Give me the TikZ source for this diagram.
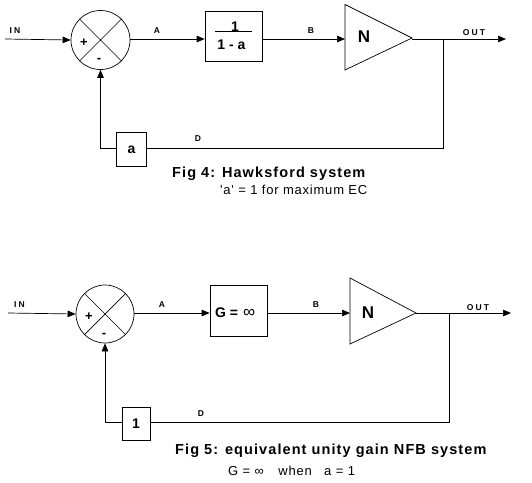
\documentclass[tikz,border=0pt]{standalone}
\usepackage{fontspec}
\setmainfont{Liberation Sans}
\newfontfamily\ttlfont[LetterSpace=7.5]{Liberation Sans}
\newfontfamily\subfont[LetterSpace=6]{Liberation Sans}
\newfontfamily\lblfont[LetterSpace=25]{Liberation Sans}
\usetikzlibrary{arrows.meta}
\begin{document}
\begin{tikzpicture}[x=1pt,y=-1pt,
  wire/.style={line width=0.7pt},
  sig/.style={wire,-{Triangle[length=8pt,width=6.5pt]}},
  sumnode/.style={circle,draw,line width=0.7pt,minimum size=59pt,inner sep=0pt},
  blk/.style={draw,line width=0.7pt,inner sep=0pt},
  tiny/.style={font=\lblfont\fontsize{8.5}{8.5}\selectfont\bfseries},
  pm/.style={font=\fontsize{13}{13}\selectfont\bfseries,inner sep=0pt},
  big/.style={font=\fontsize{14}{14}\selectfont\bfseries,inner sep=0pt},
  title/.style={font=\ttlfont\fontsize{14.5}{15}\selectfont\bfseries,inner sep=0pt,anchor=west},
  sub/.style={font=\subfont\fontsize{13}{13}\selectfont,inner sep=0pt,anchor=west}]
\useasboundingbox (0,0) rectangle (532,482);
% ---------------- Fig 4 ----------------
\coordinate (in1) at (5,39);
\node[sumnode] (s1) at (100.5,40) {};
\draw[wire] (s1.45) -- (s1.225) (s1.135) -- (s1.315);
\node[pm] at (84,43) {+};
\node[pm] at (99,60) {-};
\node[blk,minimum width=57pt,minimum height=50pt] (b1) at (233.5,36) {};
\node[big] (n1) at (235,27) {1};
\draw[wire,line width=1pt] (215,31.5) -- (252,31.5);
\node[big] (d1) at (231.5,44.5) {1 - a};
\coordinate (t1w) at (345,39);
\coordinate (t1e) at (412,38);
\draw[wire] (345,4.5) -- (412,38) -- (345,70) -- cycle;
\node[font=\fontsize{17}{17}\selectfont\bfseries] at (364,37) {N};
\coordinate (j1) at (443,39);
\coordinate (out1) at (506,39);
\node[blk,minimum width=30pt,minimum height=34pt] (f1) at (131.5,149.5) {\fontsize{14}{14}\selectfont\bfseries a};
\draw[sig] (in1) -- (s1.west);
\draw[sig] (s1.east |- in1) -- (b1.west |- in1);
\draw[sig] (b1.east |- in1) -- (t1w);
\draw[sig] (t1e |- in1) -- (out1);
\draw[wire] (j1) |- (f1.east |- 0,148);
\draw[sig] (f1.west |- 0,148) -| (s1.south);
\node[tiny] at (15,30.5) {IN};
\node[tiny] at (157,30.5) {A};
\node[tiny] at (311,31) {B};
\node[tiny] at (474,33) {OUT};
\node[tiny] at (198,139) {D};
\node[title] (tt1) at (172,174) {Fig 4: Hawksford system};
\node[sub] (st1) at (220,190) {'a' = 1 for maximum EC};
% ---------------- Fig 5 ----------------
\coordinate (in2) at (8,313);
\node[sumnode,minimum size=58pt] (s2) at (105,314) {};
\draw[wire] (s2.45) -- (s2.225) (s2.135) -- (s2.315);
\node[pm] at (89,317) {+};
\node[pm] at (104,335) {-};
\node[blk,minimum width=57pt,minimum height=51pt] (b2) at (238.5,310.5) {};
\node[big,anchor=west] at (215,313) {G =\hspace{5pt}\fontsize{17}{17}\selectfont\mdseries ∞};
\coordinate (t2w) at (350,313);
\coordinate (t2e) at (416,313);
\draw[wire] (350,278) -- (416,313) -- (350,344) -- cycle;
\node[font=\fontsize{17}{17}\selectfont\bfseries] at (368,313) {N};
\coordinate (j2) at (449,313);
\coordinate (out2) at (511,313);
\node[blk,minimum width=28pt,minimum height=33pt] (f2) at (136,423.5) {\fontsize{14}{14}\selectfont\bfseries 1};
\draw[sig] (in2) -- (s2.west);
\draw[sig] (s2.east |- in2) -- (b2.west |- in2);
\draw[sig] (b2.east |- in2) -- (t2w);
\draw[sig] (t2e) -- (out2);
\draw[wire] (j2) |- (f2.east |- 0,422);
\draw[sig] (f2.west |- 0,422) -| (s2.south);
\node[tiny] at (19.5,305) {IN};
\node[tiny] at (162,305) {A};
\node[tiny] at (316,305) {B};
\node[tiny] at (478,308) {OUT};
\node[tiny] at (201,414) {D};
\node[title] (tt2) at (175,451) {Fig 5: equivalent unity gain NFB system};
\node[sub] (st2) at (228,471) {G = ∞\hspace{10pt} when\hspace{8pt} a = 1};
\end{tikzpicture}
\end{document}
